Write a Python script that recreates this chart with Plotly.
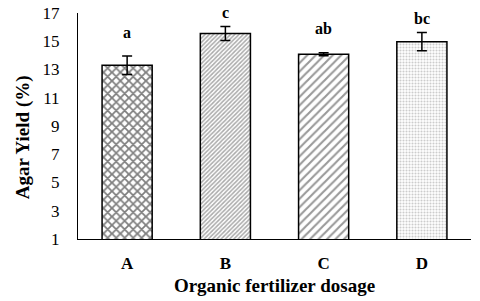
import plotly.graph_objects as go

categories = ["A", "B", "C", "D"]
values = [13.3, 15.55, 14.08, 14.97]
errors = [0.65, 0.5, 0.1, 0.65]
letters = ["a", "c", "ab", "bc"]
letter_y = [15.6, 17.05, 15.9, 16.6]
y_ticks = [1, 3, 5, 7, 9, 11, 13, 15, 17]
y_min, y_max = 1, 17

patterns = [
    dict(shape="x", size=6, solidity=0.5, fgcolor="black", bgcolor="white"),
    dict(shape="/", size=3, solidity=0.5, fgcolor="#555555", bgcolor="white"),
    dict(shape="/", size=6, solidity=0.35, fgcolor="#333333", bgcolor="white"),
    dict(shape=".", size=3, solidity=0.4, fgcolor="#999999", bgcolor="white"),
]

font = "Liberation Serif, Times New Roman, serif"
fig = go.Figure()
for c, v, e, p in zip(categories, values, errors, patterns):
    fig.add_trace(go.Bar(
        x=[c], y=[v],
        error_y=dict(type="data", array=[e], color="black", thickness=1.5, width=5),
        marker=dict(color="white", pattern=p, line=dict(color="black", width=1.5)),
        showlegend=False,
    ))

for c, l, ly in zip(categories, letters, letter_y):
    fig.add_annotation(x=c, xref="x", y=(ly - y_min) / (y_max - y_min), yref="paper",
                       yanchor="middle", xanchor="center",
                       text=l, showarrow=False,
                       font=dict(family=font, size=16, color="black", weight="bold"))

fig.add_annotation(xref="paper", yref="paper", x=-0.14, y=0.45, xanchor="center", yanchor="middle",
                   text="<b>Agar Yield (%)</b>",
                   textangle=-90, showarrow=False,
                   font=dict(family=font, size=19, color="black"))

fig.update_layout(
    width=480, height=301,
    margin=dict(l=78, r=9, t=13, b=62, autoexpand=False),
    paper_bgcolor="white", plot_bgcolor="white",
    bargap=0.49,
    font=dict(family=font, color="black"),
    xaxis=dict(
        showline=True, linecolor="black", linewidth=1.2, automargin=False,
        ticks="", tickfont=dict(size=17, family=font, weight="bold"),
        title=dict(text="<b>Organic fertilizer dosage</b>", font=dict(size=19, family=font), standoff=7),
        ticklabelstandoff=8,
    ),
    yaxis=dict(
        range=[y_min, y_max], tickvals=y_ticks, showgrid=False, zeroline=False,
        showline=True, linecolor="black", linewidth=1.2, automargin=False,
        ticks="", tickfont=dict(size=17, family=font),
        ticklabelstandoff=14,
    ),
)
fig.write_html("out.html", config={"displayModeBar": False},
               post_script="document.body.style.margin='0';")
